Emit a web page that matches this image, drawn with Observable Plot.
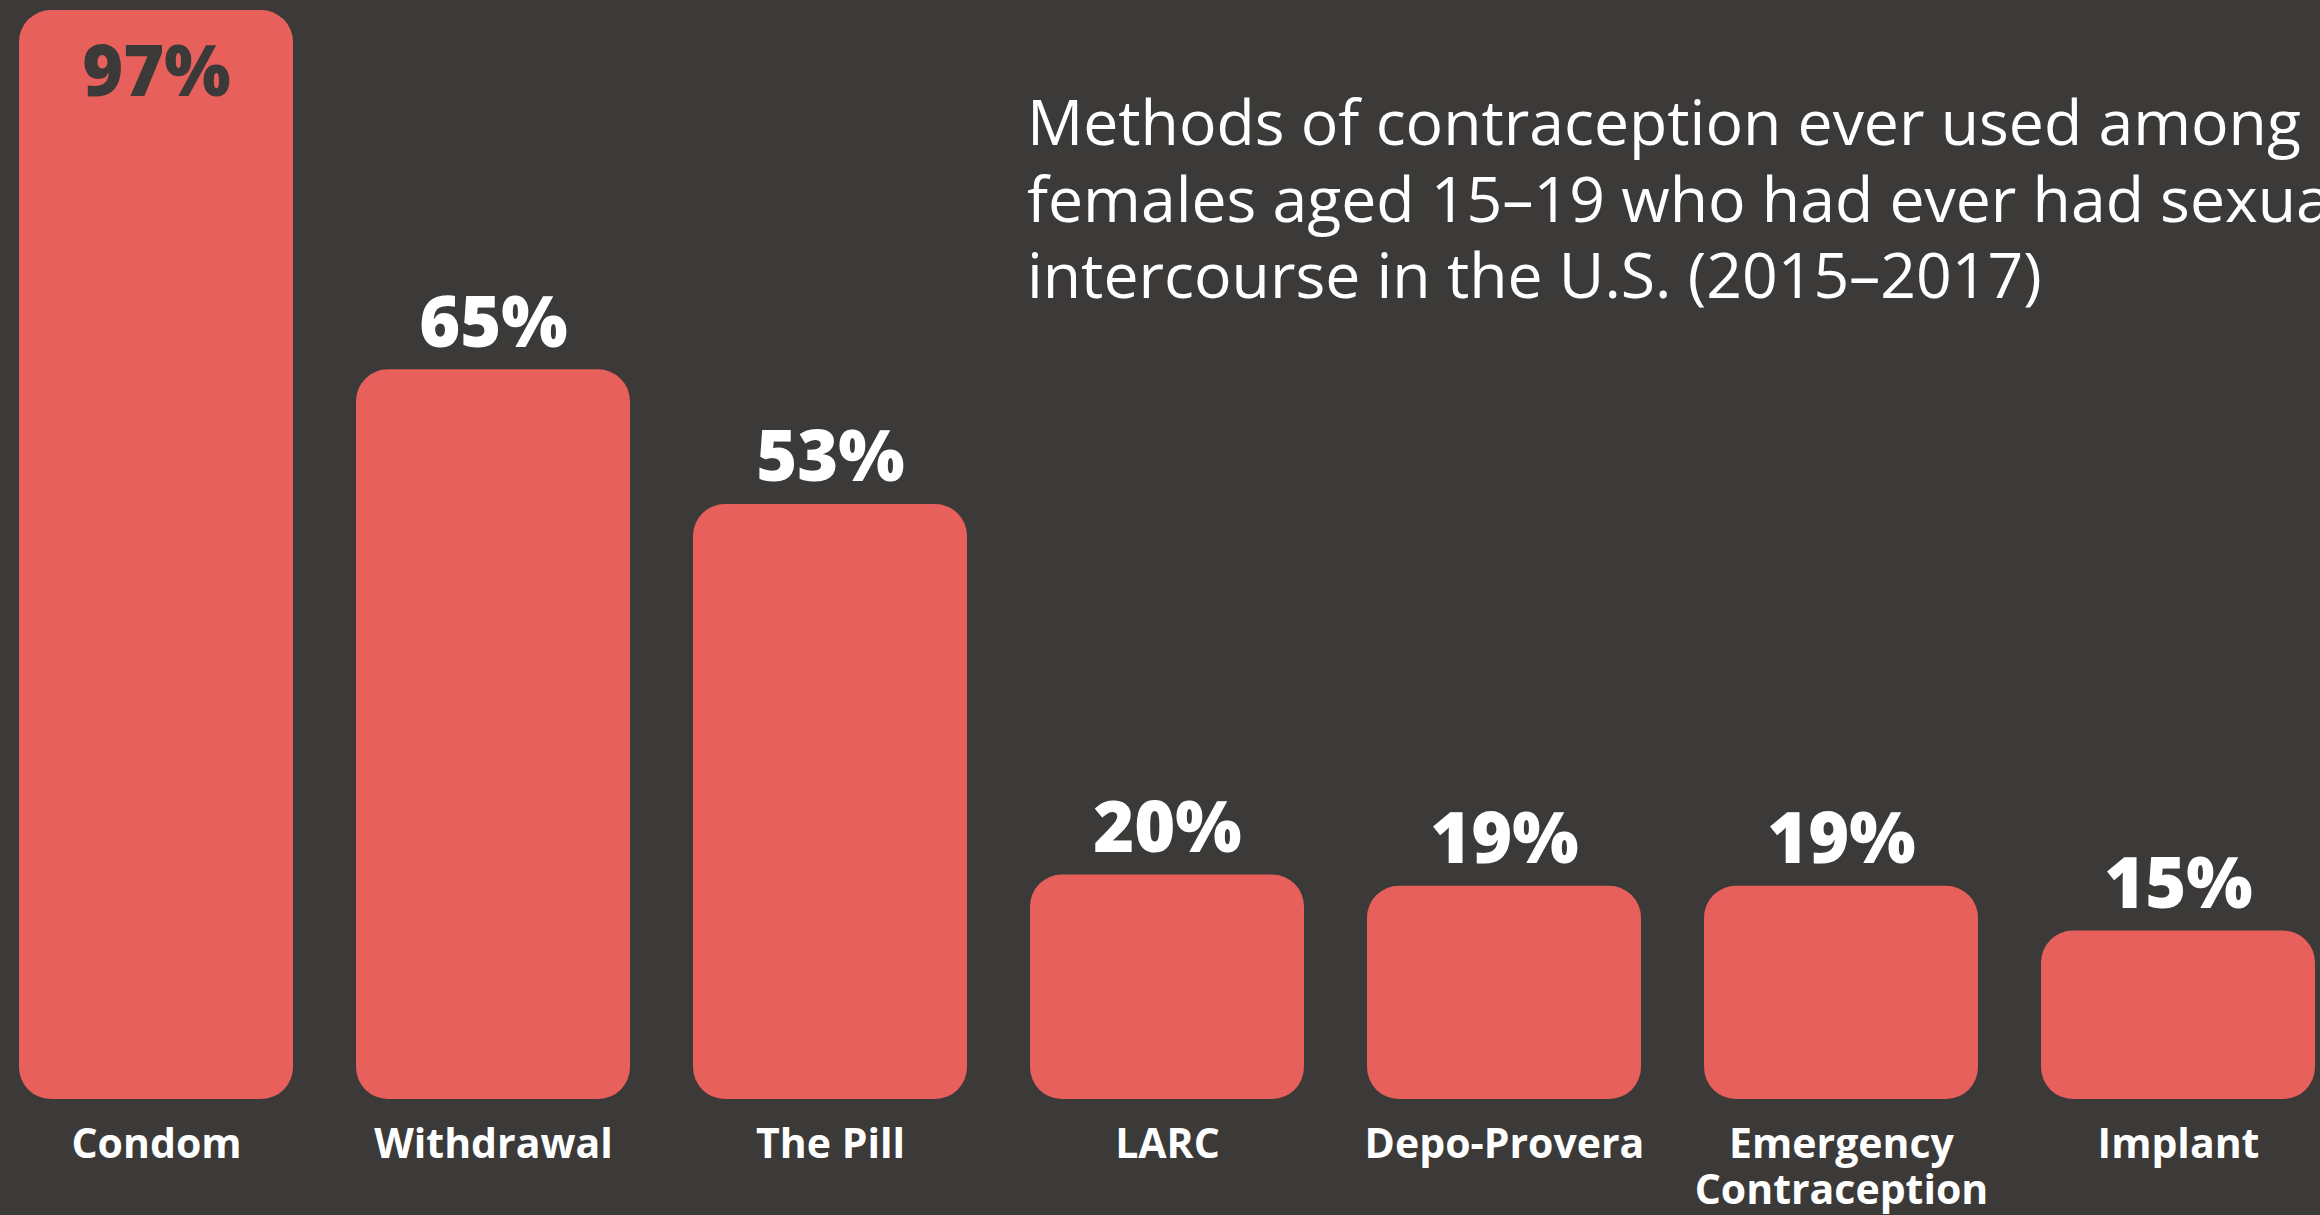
<!DOCTYPE html>
<html>
<head>
<meta charset="utf-8">
<script src="https://cdn.jsdelivr.net/npm/d3@7"></script>
<script src="https://cdn.jsdelivr.net/npm/@observablehq/plot@0.6"></script>
<style>
  html, body { margin: 0; padding: 0; background: #3c3a38; overflow: hidden; width: 2320px; height: 1215px; }
  #wrap { position: relative; width: 2320px; height: 1215px; }
  #title { position: absolute; left: 1027px; top: 83px; font-family: "Open Sans", sans-serif; font-size: 62.5px; line-height: 76.5px; color: #ffffff; font-weight: 400; white-space: nowrap; }
</style>
</head>
<body>
<div id="wrap">
  <div id="chart"></div>
  <div id="title">Methods of contraception ever used among<br>females aged 15–19 who had ever had sexual<br>intercourse in the U.S. (2015–2017)</div>
</div>
<script>
const categories = ["Condom", "Withdrawal", "The Pill", "LARC", "Depo-Provera", "Emergency Contraception", "Implant"];
const values = [97, 65, 53, 20, 19, 19, 15];
const tickLabels = ["Condom", "Withdrawal", "The Pill", "LARC", "Depo-Provera", "Emergency\nContraception", "Implant"];

const data = categories.map((c, i) => ({category: c, value: values[i], label: values[i] + "%"}));
const inside = data.filter(d => d.value > 90);
const outside = data.filter(d => d.value <= 90);

const chart = Plot.plot({
  width: 2320,
  height: 1215,
  marginTop: 10,
  marginBottom: 116,
  marginLeft: 18,
  marginRight: 4,
  style: {background: "#3c3a38", fontFamily: "'Open Sans', sans-serif", overflow: "visible"},
  x: {domain: categories, paddingInner: 0.188, paddingOuter: 0, label: null},
  y: {domain: [0, 97], label: null, axis: null},
  marks: [
    Plot.barY(data, {x: "category", y: "value", fill: "#e8605c", rx: 32}),
    Plot.text(outside, {x: "category", y: "value", text: "label", lineAnchor: "bottom", dy: -23, fill: "#ffffff", fontSize: 70, fontWeight: 800}),
    Plot.text(inside, {x: "category", y: "value", text: "label", lineAnchor: "bottom", dy: 85, fill: "#3c3a38", fontSize: 70, fontWeight: 800}),
    Plot.axisX({tickSize: 0, tickPadding: 26, fontSize: 41, fontWeight: 700, color: "#ffffff", label: null, lineHeight: 1.12,
      tickFormat: d => tickLabels[categories.indexOf(d)]})
  ]
});
document.getElementById("chart").appendChild(chart);
</script>
</body>
</html>
